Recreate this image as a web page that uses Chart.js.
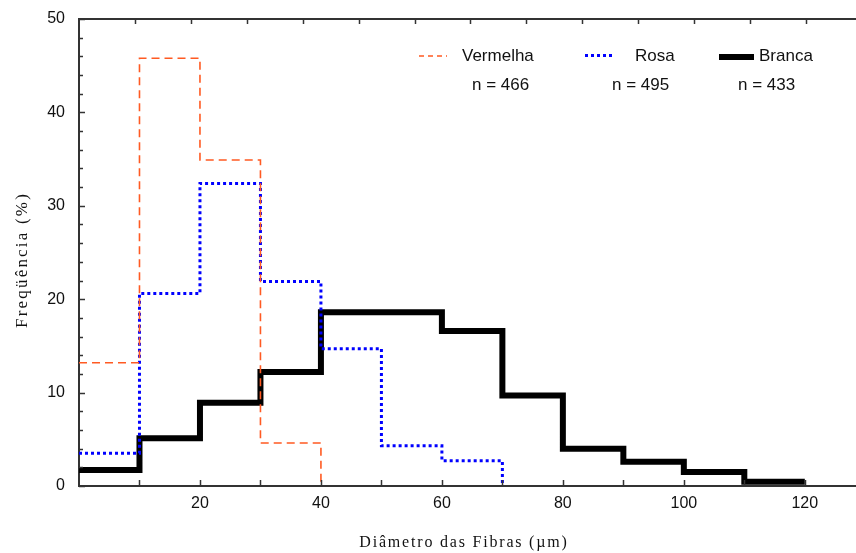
<!DOCTYPE html>
<html>
<head>
<meta charset="utf-8">
<script src="https://cdn.jsdelivr.net/npm/chart.js@4/dist/chart.umd.min.js"></script>
<style>
  body { margin: 0; background: #fff; }
  #wrap { position: relative; width: 856px; height: 553px; }
</style>
</head>
<body>
<div id="wrap"><canvas id="hist"></canvas></div>
<script>
// Limites das classes de diâmetro (µm)
const binEdges = [0, 10, 20, 30, 40, 50, 60, 70, 80, 90, 100, 110, 120];

// Frequência (%) por classe
const vermelha = [13.2, 45.8, 34.9, 4.6];
const rosa = [3.5, 20.6, 32.4, 21.9, 14.7, 4.3, 2.7];
const branca = [1.7, 5.1, 8.9, 12.2, 18.6, 18.6, 16.6, 9.7, 4.0, 2.6, 1.5, 0.45];

// Legenda
const seriesNames = ["Vermelha", "Rosa", "Branca"];
const seriesN = [466, 495, 433];

// Eixos
const xTickLabels = [20, 40, 60, 80, 100, 120];
const yTickLabels = [0, 10, 20, 30, 40, 50];

const SANS = "'Liberation Sans', Arial, sans-serif";
const SERIF = "'Liberation Serif', 'Times New Roman', serif";

// Monta os pontos do histograma em degraus
function stepPoints(values, dropToZero) {
  const pts = values.map((v, i) => ({ x: binEdges[i], y: v }));
  const end = binEdges[values.length];
  pts.push({ x: end, y: dropToZero ? 0 : values[values.length - 1] });
  return pts;
}

// Tamanho fixo do eixo, sem folga extra para os rótulos
function fixSize(prop, size) {
  return (scale) => {
    scale[prop] = size;
    scale.paddingTop = 0;
    scale.paddingBottom = 0;
    scale.paddingLeft = 0;
    scale.paddingRight = 0;
  };
}

// Plugin: marcas de escala internas, títulos dos eixos e legenda
const decorPlugin = {
  id: "decor",
  afterDraw(chart) {
    const ctx = chart.ctx;
    const area = chart.chartArea;
    const xs = chart.scales.x;
    const ys = chart.scales.y;
    const xt = chart.scales.xTop;

    ctx.save();
    ctx.strokeStyle = "#333";
    ctx.lineWidth = 1.5;
    ctx.setLineDash([]);

    // marcas do eixo x (para dentro)
    xs.ticks.forEach((t) => {
      if (t.value % 10 !== 0 || t.value <= 0) return;
      const px = Math.round(xs.getPixelForValue(t.value)) + 0.5;
      ctx.beginPath();
      ctx.moveTo(px, area.bottom);
      ctx.lineTo(px, area.bottom - 6);
      ctx.stroke();
    });

    // marcas do eixo superior
    xt.ticks.forEach((t) => {
      if (!Number.isInteger(t.value) || t.value <= 0) return;
      const px = Math.round(xt.getPixelForValue(t.value)) + 0.5;
      ctx.beginPath();
      ctx.moveTo(px, area.top);
      ctx.lineTo(px, area.top + 5);
      ctx.stroke();
    });

    // marcas do eixo y
    ys.ticks.forEach((t) => {
      const py = Math.round(ys.getPixelForValue(t.value)) + 0.5;
      const len = t.value % 10 === 0 ? 6 : 4;
      ctx.beginPath();
      ctx.moveTo(area.left, py);
      ctx.lineTo(area.left + len, py);
      ctx.stroke();
    });

    // títulos dos eixos
    ctx.fillStyle = "#111";
    ctx.textAlign = "center";
    ctx.textBaseline = "middle";
    ctx.font = "16px " + SERIF;
    ctx.letterSpacing = "1.8px";
    ctx.fillText("Diâmetro das Fibras (µm)", 464, 543);

    ctx.save();
    ctx.translate(23, 260);
    ctx.rotate(-Math.PI / 2);
    ctx.font = "17px " + SERIF;
    ctx.letterSpacing = "2.2px";
    ctx.fillText("Freqüência (%)", 0, 0);
    ctx.restore();
    ctx.letterSpacing = "0px";

    // legenda
    const samples = [
      { x1: 419, x2: 447, y: 56, color: "#ff5a22", width: 1.6, dash: [5, 4] },
      { x1: 585, x2: 612, y: 55.5, color: "#0000ff", width: 3, dash: [3, 3] },
      { x1: 719, x2: 754, y: 57, color: "#000", width: 6, dash: [] },
    ];
    const nameX = [462, 635, 759];
    const nX = [472, 612, 738];
    ctx.textAlign = "left";
    ctx.font = "17px " + SANS;
    samples.forEach((s, i) => {
      ctx.beginPath();
      ctx.strokeStyle = s.color;
      ctx.lineWidth = s.width;
      ctx.lineCap = "butt";
      ctx.setLineDash(s.dash);
      ctx.moveTo(s.x1, s.y);
      ctx.lineTo(s.x2, s.y);
      ctx.stroke();
      ctx.fillStyle = "#111";
      ctx.fillText(seriesNames[i], nameX[i], 56);
      ctx.fillText("n = " + seriesN[i], nX[i], 85);
    });
    ctx.restore();
  },
};

const ctx = document.getElementById("hist").getContext("2d");

const histChart = new Chart(ctx, {
  type: "line",
  data: {
    datasets: [
      {
        label: seriesNames[0],
        data: stepPoints(vermelha, true),
        borderColor: "#ff5a22",
        borderWidth: 1.6,
        borderDash: [8, 5],
        stepped: "before",
        pointRadius: 0,
        fill: false,
      },
      {
        label: seriesNames[1],
        data: stepPoints(rosa, true),
        borderColor: "#0000ff",
        borderWidth: 3,
        borderDash: [3, 3],
        borderCapStyle: "butt",
        stepped: "before",
        pointRadius: 0,
        fill: false,
      },
      {
        label: seriesNames[2],
        data: stepPoints(branca, false),
        borderColor: "#000",
        borderWidth: 6,
        borderJoinStyle: "miter",
        stepped: "before",
        pointRadius: 0,
        fill: false,
      },
    ],
  },
  options: {
    responsive: true,
    maintainAspectRatio: false,
    animation: false,
    layout: { padding: { top: 0, right: 1, bottom: 0, left: 0 } },
    plugins: {
      legend: { display: false },
      tooltip: { enabled: false },
    },
    scales: {
      x: {
        type: "linear",
        position: "bottom",
        min: 0,
        max: 128.3,
        grid: { display: false, drawTicks: false },
        border: { display: true, color: "#333", width: 2 },
        ticks: {
          stepSize: 10,
          includeBounds: false,
          autoSkip: false,
          maxRotation: 0,
          padding: 8,
          color: "#111",
          font: { family: SANS, size: 16 },
          callback: (v) => (xTickLabels.includes(v) ? String(v) : ""),
        },
        afterFit: fixSize("height", 67),
      },
      xTop: {
        type: "linear",
        position: "top",
        min: 0,
        max: 13.875,
        grid: { display: false, drawTicks: false },
        border: { display: true, color: "#333", width: 2 },
        ticks: { display: false, stepSize: 1, includeBounds: false },
        afterFit: fixSize("height", 19),
      },
      y: {
        min: 0,
        max: 50,
        grid: { display: false, drawTicks: false },
        border: { display: true, color: "#333", width: 2 },
        ticks: {
          stepSize: 2,
          autoSkip: false,
          padding: 14,
          color: "#111",
          font: { family: SANS, size: 16 },
          callback: (v) => (yTickLabels.includes(v) ? String(v) : ""),
        },
        afterFit: fixSize("width", 79),
      },
    },
  },
  plugins: [decorPlugin],
});
</script>
</body>
</html>
